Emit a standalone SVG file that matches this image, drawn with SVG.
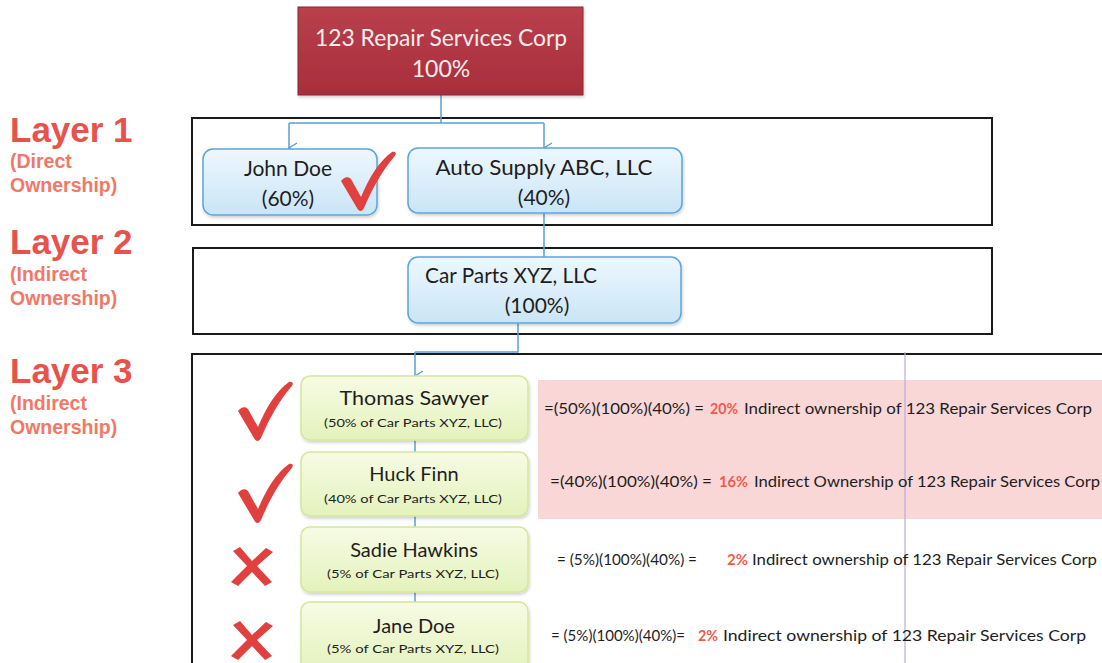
<svg xmlns="http://www.w3.org/2000/svg" width="1102" height="663" viewBox="0 0 1102 663">
<defs>
<style>
.lay{font-family:"Liberation Sans",Arial,sans-serif;font-weight:bold;font-size:35px;fill:#e8524c}
.sub{font-family:"Liberation Sans",Arial,sans-serif;font-weight:bold;font-size:19.5px;fill:#f27866}
.frame{fill:none;stroke:#1a1a1a;stroke-width:2}
.bnode{fill:url(#gBlue);stroke:#5aa6dc;stroke-width:1.5}
.gnode{fill:url(#gGreen);stroke:#d4e79a;stroke-width:1.5}
.t{font-family:Lato,"Liberation Sans",sans-serif;fill:#1e1e1e;text-anchor:middle}
.big{font-size:21px}
.gt{font-size:20px}
.sm{font-size:12px}
.calc{font-family:Lato,"Liberation Sans",sans-serif;font-size:15px;fill:#1e1e1e}
.pct{font-family:Lato,"Liberation Sans",sans-serif;font-size:15px;font-weight:bold;fill:#f05a4c}
.conn{fill:none;stroke:#5b9fd6;stroke-width:1.5}
.mark{fill:#e0403e}
</style>
<linearGradient id="gBlue" x1="0" y1="0" x2="0" y2="1">
<stop offset="0" stop-color="#eef7fd"/><stop offset="1" stop-color="#c9e5f7"/>
</linearGradient>
<linearGradient id="gGreen" x1="0" y1="0" x2="0" y2="1">
<stop offset="0" stop-color="#f7fbe4"/><stop offset="1" stop-color="#e4f2bc"/>
</linearGradient>
<linearGradient id="gRed" x1="0" y1="0" x2="0" y2="1">
<stop offset="0" stop-color="#b8404c"/><stop offset="1" stop-color="#a82e3c"/>
</linearGradient>
<marker id="arr" markerWidth="12" markerHeight="10" refX="6" refY="9" orient="auto-start-reverse" markerUnits="userSpaceOnUse" viewBox="0 0 12 10">
<path d="M1,1 L6,9 L11,1" fill="none" stroke="#5b9fd6" stroke-width="1.4"/>
</marker>
<path id="check" d="M0,30 C3,26 7,25 10,28 L20,46 C28,27 38,10 51,1 C55,0 56,3 53,6 C41,20 31,38 23,57 C21,61 18,61 16,57 Z"/>
<path id="cross" d="M3,5 L10,1 L22,15 L36,2 L43,6 L27,20 L42,36 L35,40 L22,26 L8,40 L1,36 L17,20 Z"/>
<filter id="sh" x="-5%" y="-5%" width="110%" height="120%">
<feDropShadow dx="1" dy="2" stdDeviation="1.5" flood-color="#000" flood-opacity="0.18"/>
</filter>
</defs>
<rect width="1102" height="663" fill="#ffffff"/>

<g id="labels">
<text class="lay" x="10" y="142">Layer 1</text>
<text class="sub" x="10" y="168">(Direct</text>
<text class="sub" x="10" y="192">Ownership)</text>
<text class="lay" x="10" y="254">Layer 2</text>
<text class="sub" x="10" y="281">(Indirect</text>
<text class="sub" x="10" y="305">Ownership)</text>
<text class="lay" x="10" y="383">Layer 3</text>
<text class="sub" x="10" y="410">(Indirect</text>
<text class="sub" x="10" y="434">Ownership)</text>
</g>

<g id="frames">
<rect class="frame" x="192" y="118" width="800" height="107"/>
<rect class="frame" x="193" y="248" width="799" height="86"/>
<path class="frame" d="M1104,354 L192,354 L192,665"/>
</g>

<g id="calc-bg">
<rect x="538" y="380" width="564" height="139" fill="#f8d7d6"/>
<line x1="905" y1="352" x2="905" y2="663" stroke="#b4aee0" stroke-width="1.2"/>
</g>

<g id="connectors">
<path class="conn" d="M441,95 L441,123"/>
<path class="conn" d="M289,123 L544,123"/>
<path class="conn" d="M289,123 L289,148" marker-end="url(#arr)"/>
<path class="conn" d="M544,123 L544,148" marker-end="url(#arr)"/>
<path class="conn" d="M544,213 L544,257"/>
<path class="conn" d="M518,323 L518,352 L415,352"/>
<path class="conn" d="M415,352 L415,376" marker-end="url(#arr)"/>
<path class="conn" d="M415,440 L415,452"/>
<path class="conn" d="M415,516 L415,527"/>
<path class="conn" d="M415,592 L415,602"/>
</g>

<g id="root">
<rect x="298" y="7" width="285" height="88" fill="url(#gRed)" stroke="#8e2634" stroke-width="1" filter="url(#sh)"/>
<text class="t" x="441" y="46" font-size="23" style="fill:#f8ecec" textLength="252" lengthAdjust="spacingAndGlyphs">123 Repair Services Corp</text>
<text class="t" x="441" y="77" font-size="23" style="fill:#f8ecec">100%</text>
</g>

<g id="john-doe">
<rect class="bnode" x="203" y="149" width="174" height="66" rx="10" filter="url(#sh)"/>
<text class="t big" x="288" y="176">John Doe</text>
<text class="t big" x="288" y="206">(60%)</text>
</g>

<g id="auto-supply">
<rect class="bnode" x="408" y="148" width="274" height="65" rx="10" filter="url(#sh)"/>
<text class="t big" x="544" y="175" textLength="217" lengthAdjust="spacingAndGlyphs">Auto Supply ABC, LLC</text>
<text class="t big" x="544" y="205">(40%)</text>
</g>

<g id="car-parts">
<rect class="bnode" x="408" y="257" width="273" height="66" rx="10" filter="url(#sh)"/>
<text class="t big" x="511" y="283" textLength="172" lengthAdjust="spacingAndGlyphs">Car Parts XYZ, LLC</text>
<text class="t big" x="537" y="313">(100%)</text>
</g>

<g id="thomas-sawyer">
<rect class="gnode" x="301" y="376" width="227" height="64" rx="9" filter="url(#sh)"/>
<text class="t gt" x="414" y="405" textLength="149" lengthAdjust="spacingAndGlyphs">Thomas Sawyer</text>
<text class="t sm" x="413" y="427" textLength="178" lengthAdjust="spacingAndGlyphs">(50% of Car Parts XYZ, LLC)</text>
</g>

<g id="huck-finn">
<rect class="gnode" x="301" y="452" width="227" height="64" rx="9" filter="url(#sh)"/>
<text class="t gt" x="414" y="481">Huck Finn</text>
<text class="t sm" x="413" y="503" textLength="178" lengthAdjust="spacingAndGlyphs">(40% of Car Parts XYZ, LLC)</text>
</g>

<g id="sadie-hawkins">
<rect class="gnode" x="301" y="527" width="227" height="65" rx="9" filter="url(#sh)"/>
<text class="t gt" x="414" y="557">Sadie Hawkins</text>
<text class="t sm" x="413" y="578" textLength="172" lengthAdjust="spacingAndGlyphs">(5% of Car Parts XYZ, LLC)</text>
</g>

<g id="jane-doe">
<rect class="gnode" x="301" y="602" width="227" height="70" rx="9" filter="url(#sh)"/>
<text class="t gt" x="414" y="633">Jane Doe</text>
<text class="t sm" x="413" y="653" textLength="172" lengthAdjust="spacingAndGlyphs">(5% of Car Parts XYZ, LLC)</text>
</g>

<g id="marks">
<use href="#check" class="mark" transform="translate(341,151)"/>
<use href="#check" class="mark" transform="translate(238,381)"/>
<use href="#check" class="mark" transform="translate(238,463)"/>
<use href="#cross" class="mark" transform="translate(230,546)"/>
<use href="#cross" class="mark" transform="translate(230,620)"/>
</g>

<g id="calculations">
<text class="calc" x="544" y="414" textLength="160" lengthAdjust="spacingAndGlyphs">=(50%)(100%)(40%) =</text>
<text class="pct" x="710" y="414" textLength="28" lengthAdjust="spacingAndGlyphs">20%</text>
<text class="calc" x="744" y="414" textLength="348" lengthAdjust="spacingAndGlyphs">Indirect ownership of 123 Repair Services Corp</text>

<text class="calc" x="550" y="487" textLength="162" lengthAdjust="spacingAndGlyphs">=(40%)(100%)(40%) =</text>
<text class="pct" x="719" y="487" textLength="29" lengthAdjust="spacingAndGlyphs">16%</text>
<text class="calc" x="754" y="487" textLength="346" lengthAdjust="spacingAndGlyphs">Indirect Ownership of 123 Repair Services Corp</text>

<text class="calc" x="557" y="565" textLength="140" lengthAdjust="spacingAndGlyphs">= (5%)(100%)(40%) =</text>
<text class="pct" x="727" y="565" textLength="21" lengthAdjust="spacingAndGlyphs">2%</text>
<text class="calc" x="752" y="565" textLength="345" lengthAdjust="spacingAndGlyphs">Indirect ownership of 123 Repair Services Corp</text>

<text class="calc" x="551" y="641" textLength="134" lengthAdjust="spacingAndGlyphs">= (5%)(100%)(40%)=</text>
<text class="pct" x="698" y="641" textLength="20" lengthAdjust="spacingAndGlyphs">2%</text>
<text class="calc" x="723" y="641" textLength="363" lengthAdjust="spacingAndGlyphs">Indirect ownership of 123 Repair Services Corp</text>
</g>
</svg>
